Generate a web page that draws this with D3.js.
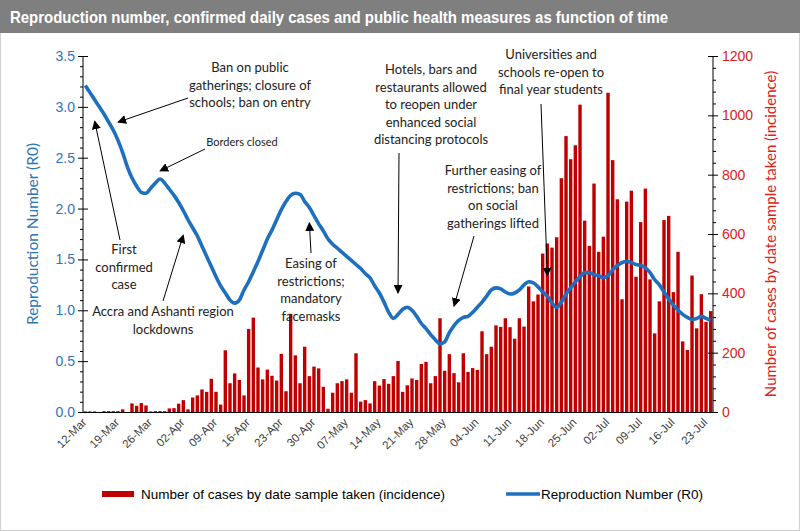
<!DOCTYPE html>
<html>
<head>
<meta charset="utf-8">
<script src="https://cdn.jsdelivr.net/npm/d3@7"></script>
<style>
  html, body { margin: 0; padding: 0; background: #fff; }
  svg { display: block; }
</style>
</head>
<body>
<script>
// ---------------- DATA ----------------
const startDate = new Date(2020, 2, 12);
const endDate = new Date(2020, 6, 25);
const days = d3.timeDay.range(startDate, endDate); // 12-Mar .. 24-Jul (135 days)

const cases = [
  2, 2, 2, 0, 3, 3, 3, 3, 9, 0,
  29, 21, 30, 22, 2, 3, 3, 3, 12, 13,
  28, 40, 9, 49, 56, 76, 68, 112, 68, 25,
  208, 97, 130, 108, 56, 280, 318, 150, 110, 143,
  122, 106, 196, 70, 331, 191, 97, 220, 121, 153,
  147, 85, 11, 65, 97, 104, 110, 65, 198, 35,
  40, 29, 104, 89, 111, 95, 121, 172, 68, 90,
  113, 108, 162, 169, 97, 121, 316, 139, 195, 131,
  100, 198, 135, 148, 142, 272, 195, 220, 292, 287,
  316, 286, 247, 316, 288, 423, 373, 396, 534, 568,
  554, 589, 788, 930, 852, 899, 1036, 645, 560, 770,
  540, 591, 1076, 849, 717, 380, 709, 746, 456, 640,
  753, 447, 265, 373, 647, 661, 404, 540, 238, 209,
  460, 282, 397, 304, 340
];

const r0 = [
  3.21, 3.14, 3.07, 3.00, 2.93, 2.85, 2.77, 2.67, 2.55, 2.41,
  2.30, 2.22, 2.16, 2.15, 2.20, 2.25, 2.29, 2.25, 2.19, 2.13,
  2.06, 1.98, 1.89, 1.81, 1.73, 1.63, 1.53, 1.43, 1.33, 1.24,
  1.17, 1.10, 1.07, 1.10, 1.20, 1.28, 1.38, 1.48, 1.59, 1.70,
  1.79, 1.89, 1.99, 2.07, 2.13, 2.15, 2.14, 2.07, 2.01, 1.93,
  1.85, 1.78, 1.70, 1.65, 1.61, 1.57, 1.53, 1.49, 1.45, 1.41,
  1.36, 1.32, 1.24, 1.17, 1.08, 0.98, 0.92, 0.96, 1.01, 1.03,
  1.00, 0.94, 0.87, 0.82, 0.76, 0.71, 0.67, 0.69, 0.78, 0.85,
  0.90, 0.93, 0.94, 0.98, 1.03, 1.08, 1.14, 1.20, 1.22, 1.21,
  1.18, 1.16, 1.17, 1.20, 1.25, 1.28, 1.27, 1.23, 1.18, 1.14,
  1.07, 1.03, 1.08, 1.16, 1.22, 1.28, 1.33, 1.37, 1.37, 1.35,
  1.34, 1.32, 1.34, 1.40, 1.44, 1.47, 1.48, 1.47, 1.45, 1.44,
  1.42, 1.37, 1.30, 1.25, 1.18, 1.11, 1.05, 1.00, 0.96, 0.93,
  0.91, 0.92, 0.94, 0.92, 0.90
];

const xTickLabels = ["12-Mar","19-Mar","26-Mar","02-Apr","09-Apr","16-Apr","23-Apr","30-Apr",
  "07-May","14-May","21-May","28-May","04-Jun","11-Jun","18-Jun","25-Jun",
  "02-Jul","09-Jul","16-Jul","23-Jul"];
const leftTicks = [0, 0.5, 1.0, 1.5, 2.0, 2.5, 3.0, 3.5];
const rightTicks = [0, 200, 400, 600, 800, 1000, 1200];

const titleText = "Reproduction number, confirmed daily cases and public health measures as function of time";
const leftTitle = "Reproduction Number (R0)";
const rightTitle = "Number of cases by date sample taken (incidence)";
const legendLabels = ["Number of cases by date sample taken (incidence)", "Reproduction Number (R0)"];

// annotations: text lines, arrow start, arrow target (day index, R0)
const annotations = [
  { lines: ["Ban on public", "gatherings; closure of", "schools; ban on entry"], tx: 250, ty: 72, from: [188, 98], toI: 7, toR: 2.85 },
  { lines: ["Borders closed"], tx: 242, ty: 146, small: true, from: [205, 149], toI: 16, toR: 2.37 },
  { lines: ["First", "confirmed", "case"], tx: 124, ty: 254, from: [120, 240], toI: 2, toR: 2.86 },
  { lines: ["Accra and Ashanti region", "lockdowns"], tx: 163, ty: 316, from: [163, 301], toI: 21, toR: 1.74 },
  { lines: ["Easing of", "restrictions;", "mandatory", "facemasks"], tx: 311, ty: 268, from: [311, 253], toI: 48, toR: 1.86 },
  { lines: ["Hotels, bars and", "restaurants allowed", "to reopen under", "enhanced social", "distancing protocols"], tx: 431, ty: 74, from: [399, 153], toI: 67, toR: 1.17 },
  { lines: ["Further easing of", "restrictions; ban", "on social", "gatherings lifted"], tx: 493, ty: 175, from: [474, 236], toI: 79, toR: 1.04 },
  { lines: ["Universities and", "schools re-open to", "final year students"], tx: 551, ty: 59, from: [541, 104], toI: 99, toR: 1.34 }
];

// ---------------- CHART ----------------
const W = 800, H = 531;
const svg = d3.select("body").append("svg").attr("width", W).attr("height", H);

svg.append("rect").attr("x", 0.5).attr("y", 0.5).attr("width", W - 1).attr("height", H - 1)
  .attr("fill", "#fff").attr("stroke", "#d0d0d0");
svg.append("rect").attr("x", 0).attr("y", 0).attr("width", W).attr("height", 33).attr("fill", "#7f7f7f");
svg.append("text").attr("x", 10).attr("y", 23)
  .attr("font-family", "'Liberation Sans Narrow', 'Arial Narrow', 'Liberation Sans', Arial, sans-serif")
  .attr("font-weight", "bold").attr("font-size", 17).attr("fill", "#fff")
  .attr("textLength", 658).attr("lengthAdjust", "spacingAndGlyphs")
  .text(titleText);

const plotL = 83, plotR = 713, plotT = 56, plotB = 412;
const x = d3.scaleBand().domain(d3.range(days.length)).range([plotL, plotR]).paddingInner(0.27).paddingOuter(0.13);
const step = x.step();
const cx = i => plotL + step * (i + 0.5);
const yL = d3.scaleLinear().domain([0, 3.5]).range([plotB, plotT]);
const yR = d3.scaleLinear().domain([0, 1200]).range([plotB, plotT]);

// bars
svg.append("g").selectAll("rect").data(cases).join("rect")
  .attr("x", (d, i) => x(i))
  .attr("width", x.bandwidth())
  .attr("y", d => yR(d))
  .attr("height", d => plotB - yR(d))
  .attr("fill", "#c00000");

// R0 line
const line = d3.line().x((d, i) => cx(i)).y(d => yL(d)).curve(d3.curveMonotoneX);
svg.append("path").datum(r0).attr("d", line).attr("fill", "none")
  .attr("stroke", "#1f6fbf").attr("stroke-width", 3.6).attr("stroke-linejoin", "round");

// axes
const axisFont = "'Liberation Sans', Arial, sans-serif";
const gL = svg.append("g").attr("transform", `translate(${plotL},0)`)
  .call(d3.axisLeft(yL).tickValues(leftTicks).tickFormat(d3.format(".1f")).tickSize(5).tickPadding(4));
gL.selectAll(".tick line").attr("x2", 5).attr("x1", -5).attr("stroke", "#000");
gL.selectAll(".tick text").attr("font-size", 14).attr("font-family", axisFont).attr("fill", "#2e75b6").attr("x", -8);
gL.select(".domain").attr("stroke", "#000").attr("d", `M0,${plotT}V${plotB}`);
const minorL = d3.range(0, 3.51, 0.1).filter(v => Math.abs(v * 2 - Math.round(v * 2)) > 1e-6);
svg.append("g").attr("transform", `translate(${plotL},0)`)
  .call(d3.axisLeft(yL).tickValues(minorL).tickFormat("").tickSize(3))
  .call(g => g.select(".domain").remove())
  .selectAll("line").attr("stroke", "#000");

const gR = svg.append("g").attr("transform", `translate(${plotR},0)`)
  .call(d3.axisRight(yR).tickValues(rightTicks).tickFormat(d3.format("d")).tickSize(5).tickPadding(4));
gR.selectAll(".tick line").attr("x1", -5).attr("x2", 5).attr("stroke", "#000");
gR.selectAll(".tick text").attr("font-size", 14).attr("font-family", axisFont).attr("fill", "#e0201c").attr("x", 9);
gR.select(".domain").attr("stroke", "#000").attr("d", `M0,${plotT}V${plotB}`);
const minorR = d3.range(0, 1201, 40).filter(v => v % 200 !== 0);
svg.append("g").attr("transform", `translate(${plotR},0)`)
  .call(d3.axisRight(yR).tickValues(minorR).tickFormat("").tickSize(3))
  .call(g => g.select(".domain").remove())
  .selectAll("line").attr("stroke", "#000");

// x axis
svg.append("line").attr("x1", plotL).attr("x2", plotR).attr("y1", plotB + 0.5).attr("y2", plotB + 0.5).attr("stroke", "#000");
const xTickIdx = xTickLabels.map((l, k) => k * 7);
svg.append("g").selectAll("text").data(xTickLabels).join("text")
  .attr("transform", (d, k) => `translate(${cx(xTickIdx[k]) + 2},${plotB + 11}) rotate(-45)`)
  .attr("text-anchor", "end")
  .attr("font-size", 11.5).attr("font-family", axisFont).attr("fill", "#404040")
  .text(d => d);

// axis titles
svg.append("text").attr("transform", `translate(38,${(plotT + plotB) / 2}) rotate(-90)`)
  .attr("text-anchor", "middle").attr("font-size", 15.5).attr("font-family", "Lato, 'Open Sans', sans-serif")
  .attr("fill", "#2e75b6").text(leftTitle);
svg.append("text").attr("transform", `translate(776,${(plotT + plotB) / 2}) rotate(-90)`)
  .attr("text-anchor", "middle").attr("font-size", 15).attr("font-family", "Lato, 'Open Sans', sans-serif")
  .attr("fill", "#e0201c").text(rightTitle);

// arrow marker
svg.append("defs").append("marker").attr("id", "arr")
  .attr("viewBox", "0 0 10 10").attr("refX", 9).attr("refY", 5)
  .attr("markerWidth", 9).attr("markerHeight", 9).attr("markerUnits", "userSpaceOnUse")
  .attr("orient", "auto")
  .append("path").attr("d", "M0,0L10,5L0,10Z").attr("fill", "#000");

// annotations
const annFont = "Lato, 'Open Sans', sans-serif";
annotations.forEach(a => {
  const t = svg.append("text").attr("text-anchor", "middle")
    .attr("font-family", annFont).attr("font-size", a.small ? 11 : 13).attr("fill", "#222");
  a.lines.forEach((l, k) => t.append("tspan").attr("x", a.tx).attr("y", a.ty + k * 17.5).text(l));
  svg.append("line").attr("x1", a.from[0]).attr("y1", a.from[1])
    .attr("x2", cx(a.toI)).attr("y2", yL(a.toR))
    .attr("stroke", "#000").attr("stroke-width", 1).attr("marker-end", "url(#arr)");
});

// legend
const lg = svg.append("g").attr("font-family", axisFont).attr("font-size", 13.5).attr("fill", "#000");
lg.append("rect").attr("x", 102).attr("y", 491).attr("width", 32).attr("height", 6).attr("fill", "#c00000");
lg.append("text").attr("x", 141).attr("y", 499).text(legendLabels[0]);
lg.append("line").attr("x1", 506).attr("x2", 540).attr("y1", 494).attr("y2", 494).attr("stroke", "#1f6fbf").attr("stroke-width", 3.6);
lg.append("text").attr("x", 541).attr("y", 499).text(legendLabels[1]);
</script>
</body>
</html>
